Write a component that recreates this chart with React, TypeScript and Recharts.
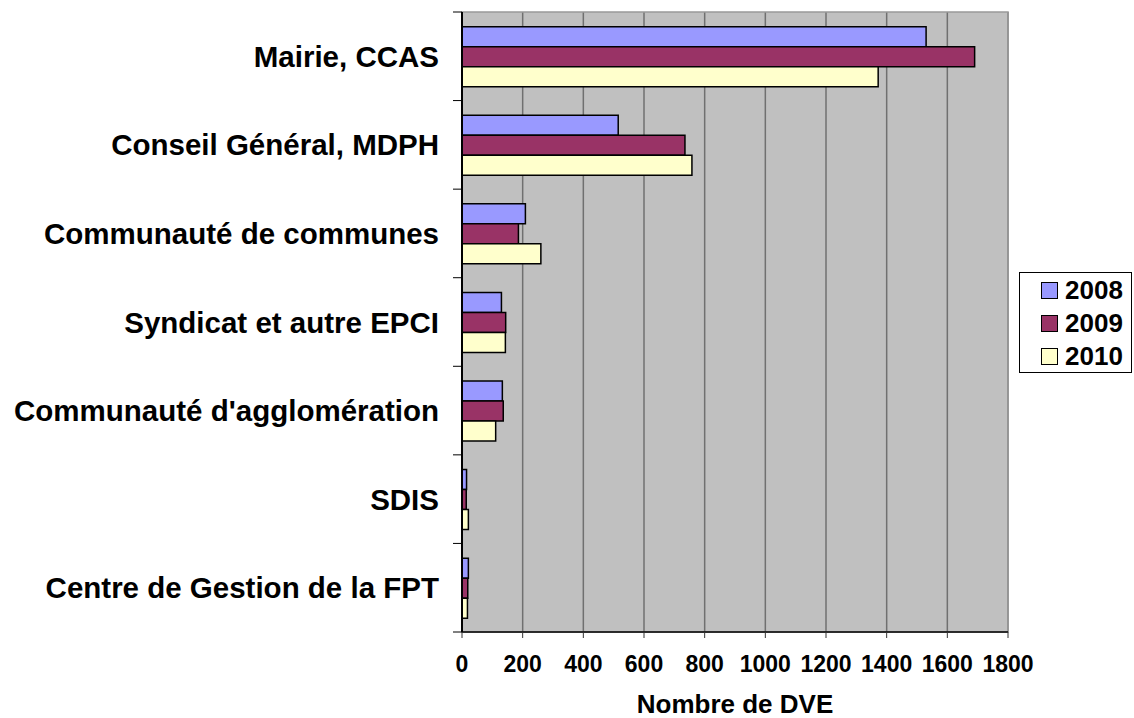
import React from 'react';
import {
  BarChart,
  Bar,
  XAxis,
  YAxis,
  CartesianGrid,
  Legend,
  ReferenceArea,
} from 'recharts';

const categories = [
  'Mairie, CCAS',
  'Conseil Général, MDPH',
  'Communauté de communes',
  'Syndicat et autre EPCI',
  "Communauté d'agglomération",
  'SDIS',
  'Centre de Gestion de la FPT',
];
const values2008 = [1530, 515, 209, 130, 133, 15, 21];
const values2009 = [1690, 735, 186, 144, 136, 14, 19];
const values2010 = [1372, 758, 260, 143, 111, 21, 18];
const xTicks = [0, 200, 400, 600, 800, 1000, 1200, 1400, 1600, 1800];
const seriesNames = ['2008', '2009', '2010'];
const seriesColors = ['#9999FF', '#993366', '#FFFFCC'];

const data = categories.map((name, i) => ({
  name,
  '2008': values2008[i],
  '2009': values2009[i],
  '2010': values2010[i],
}));

const FONT = "Arial, 'Liberation Sans', sans-serif";
const Y_TICK_SIZE = 9;
const Y_TICK_MARGIN = 14;

const CategoryTick = (props: any) => {
  const { x, y, payload, index, visibleTicksCount } = props;
  const half = payload && typeof payload.offset === 'number' ? payload.offset : 0;
  const lx1 = x + Y_TICK_MARGIN;
  const lx2 = x + Y_TICK_MARGIN + Y_TICK_SIZE;
  return (
    <g>
      <line x1={lx1} x2={lx2} y1={y - half} y2={y - half} stroke="#000" strokeWidth={1} />
      {index === visibleTicksCount - 1 && (
        <line x1={lx1} x2={lx2} y1={y + half} y2={y + half} stroke="#000" strokeWidth={1} />
      )}
      <text
        x={x}
        y={y}
        textAnchor="end"
        dominantBaseline="central"
        fontFamily={FONT}
        fontWeight="bold"
        fontSize={29.5}
        fill="#000"
      >
        {payload.value}
      </text>
    </g>
  );
};

const LegendBox = () => (
  <div
    style={{
      width: 113,
      height: 101,
      border: '1px solid #000',
      background: '#fff',
      boxSizing: 'border-box',
      paddingTop: 1,
      fontFamily: FONT,
      fontWeight: 'bold',
      fontSize: 26,
    }}
  >
    {seriesNames.map((n, i) => (
      <div
        key={n}
        style={{ display: 'flex', alignItems: 'center', height: 33, paddingLeft: 21 }}
      >
        <span
          style={{
            display: 'inline-block',
            width: 15,
            height: 15,
            background: seriesColors[i],
            border: '1px solid #000',
            marginRight: 7,
          }}
        />
        <span style={{ color: '#000', lineHeight: '33px' }}>{n}</span>
      </div>
    ))}
  </div>
);

export default function App() {
  return (
    <div style={{ position: 'absolute', left: 0, top: 0, width: 1134, height: 718, background: '#fff' }}>
      <BarChart
        width={1134}
        height={718}
        data={data}
        layout="vertical"
        margin={{ top: 12, right: 126, bottom: 0, left: 0 }}
        barCategoryGap="16.6%"
        barGap={0}
      >
        <CartesianGrid horizontal={false} vertical={true} stroke="#707070" fill="#C0C0C0" strokeWidth={1.5} />
        <ReferenceArea x1={0} x2={1800} fill="none" stroke="#999" strokeWidth={1.5} ifOverflow="visible" />
        <XAxis
          type="number"
          domain={[0, 1800]}
          ticks={xTicks}
          interval={0}
          height={86}
          axisLine={{ stroke: '#000', strokeWidth: 1.5 }}
          tickLine={{ stroke: '#333' }}
          tickSize={6}
          tickMargin={18}
          tick={{ fontFamily: FONT, fontWeight: 'bold', fontSize: 23, fill: '#000' }}
          label={{
            value: 'Nombre de DVE',
            position: 'insideBottom',
            offset: 5,
            style: { fontFamily: FONT, fontWeight: 'bold', fontSize: 26, fill: '#000' },
          }}
        />
        <YAxis
          type="category"
          dataKey="name"
          width={462}
          interval={0}
          axisLine={{ stroke: '#000', strokeWidth: 2 }}
          tickLine={{ stroke: 'none' }}
          tickSize={Y_TICK_SIZE}
          tickMargin={Y_TICK_MARGIN}
          tick={<CategoryTick />}
        />
        <Legend
          layout="vertical"
          align="center"
          verticalAlign="middle"
          wrapperStyle={{ left: 1019, top: 272, width: 113, height: 101 }}
          content={() => <LegendBox />}
        />
        {seriesNames.map((n, i) => (
          <Bar
            key={n}
            dataKey={n}
            fill={seriesColors[i]}
            stroke="#000"
            strokeWidth={1.5}
            isAnimationActive={false}
          />
        ))}
      </BarChart>
    </div>
  );
}
